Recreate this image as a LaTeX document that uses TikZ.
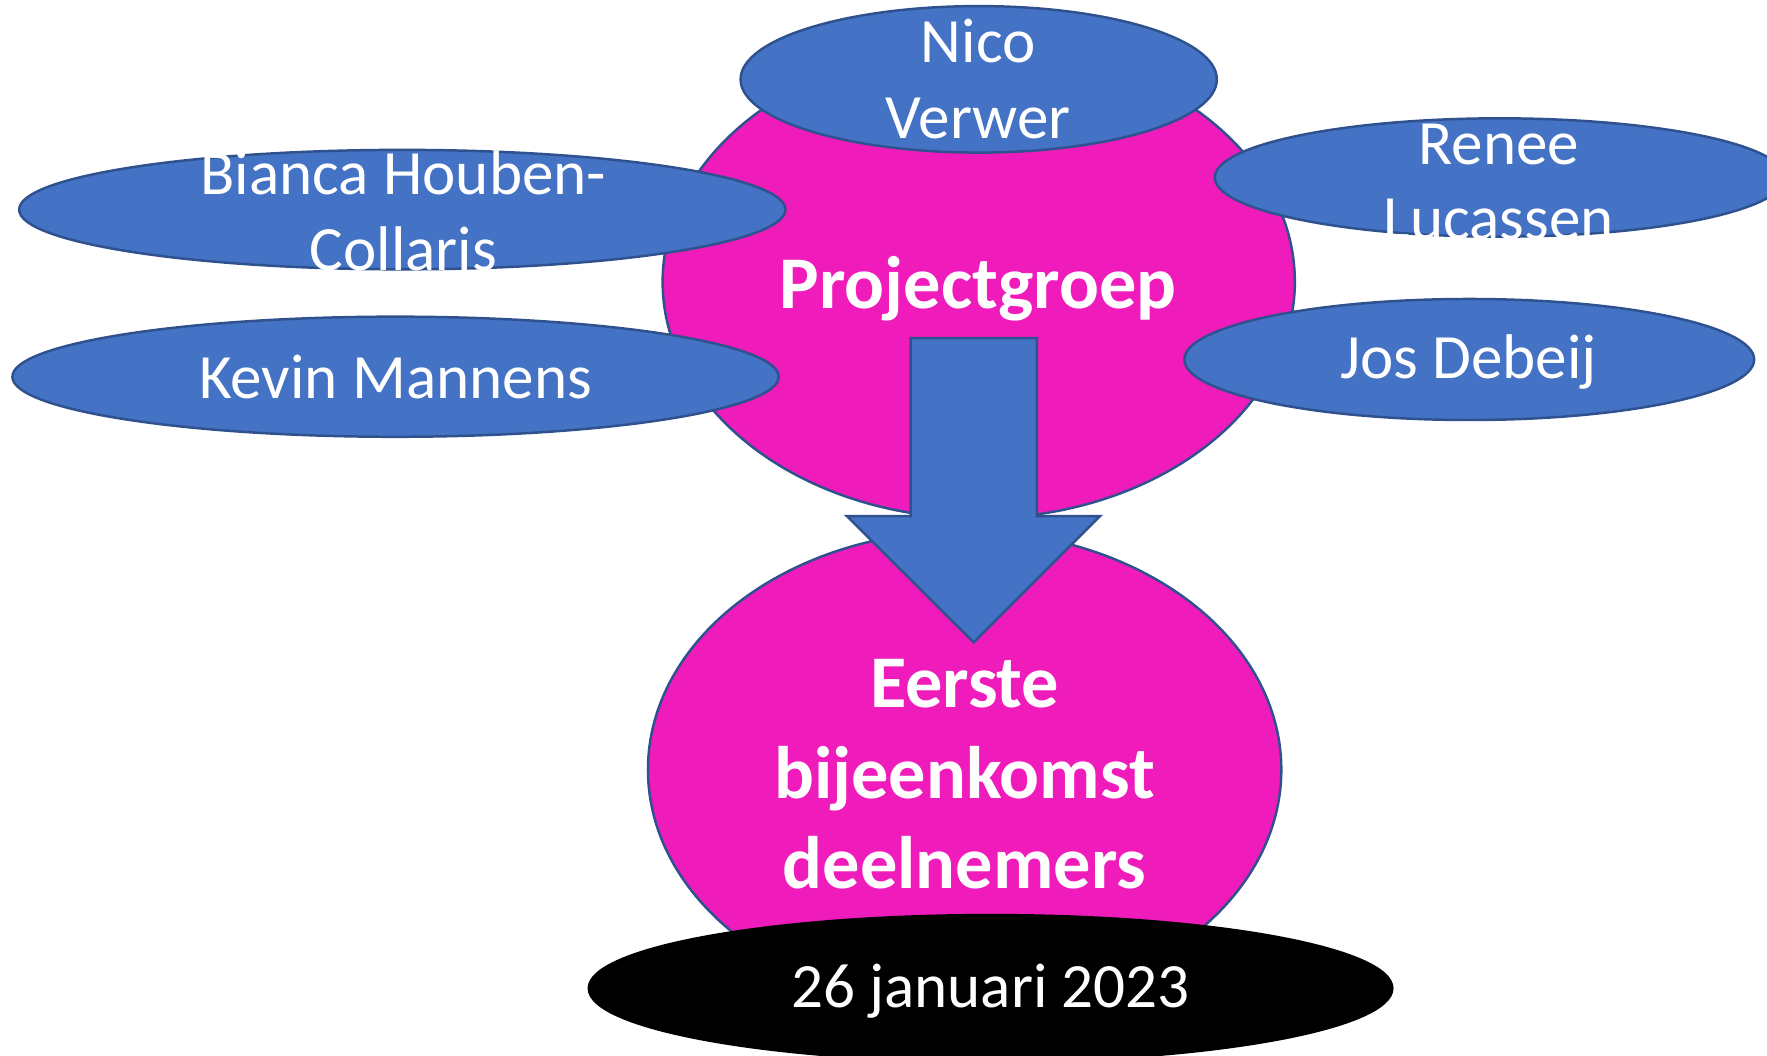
\documentclass[tikz,border=0pt]{standalone}
\usepackage{fontspec}
\setmainfont{Carlito}
\usetikzlibrary{shapes.geometric}
\definecolor{ellblue}{HTML}{4472C4}
\definecolor{edgeblue}{HTML}{2F528F}
\definecolor{pinkfill}{RGB}{240,27,187}
\begin{document}
\begin{tikzpicture}[x=0.5pt,y=-0.5pt,
  oval/.style={ellipse, draw=edgeblue, line width=1.1pt, inner sep=0pt, outer sep=0pt},
  member/.style={oval, fill=ellblue},
  group/.style={oval, fill=pinkfill},
  reg/.style={text=white, font=\fontsize{28}{33.5}\selectfont, align=center, inner sep=0pt},
  boldtxt/.style={text=white, font=\fontsize{33}{40}\selectfont\bfseries, align=center, inner sep=0pt},
  blockarrow/.style={fill=ellblue, draw=edgeblue, line width=1.1pt, line join=miter}]
\useasboundingbox (0,0) rectangle (1568,937);
\clip (0,0) rectangle (1568,937);
% pink groups
\node[group, minimum width=280.5pt, minimum height=210pt] (pg) at (868.5,250) {};
\node[group, minimum width=281pt, minimum height=212pt] (eb) at (856,683) {};
% members
\node[member, minimum width=211.3pt, minimum height=65pt] (nico) at (868.5,70.4) {};
\node[member, minimum width=340pt, minimum height=53pt] (bianca) at (357,186) {};
\node[member, minimum width=340pt, minimum height=53.3pt] (kevin) at (351,334.3) {};
\node[member, minimum width=253pt, minimum height=52.5pt] (renee) at (1331,157.5) {};
\node[member, minimum width=252.8pt, minimum height=53.7pt] (jos) at (1303.8,319) {};
% arrow
\coordinate (atop) at (864,300);
\coordinate (atip) at (864,570);
\draw[blockarrow] ([xshift=-28pt]atop) -- ([xshift=28pt]atop) -- ++(0,158) -- (976,458) -- (atip) -- (751.5,458) -- (808,458) -- cycle;
% date
\node[ellipse, fill=black, draw=black, line width=1.1pt, inner sep=0pt, minimum width=356.5pt, minimum height=65pt] (date) at (879,877) {};
% texts
\node[boldtxt] (tpg) at (868,256) {Projectgroep};
\node[boldtxt] (teb) at (856,687) {Eerste\\bijeenkomst\\deelnemers};
\node[reg] (tnico) at (868,70) {Nico\\Verwer};
\node[reg] (tbianca) at (358,187) {Bianca Houben-\\Collaris};
\node[reg] (tkevin) at (351,335) {Kevin Mannens};
\node[reg] (trenee) at (1330,161.5) {Renee\\Lucassen};
\node[reg] (tjos) at (1303,321) {Jos Debeij};
\node[reg] (tdate) at (879,880) {26 januari 2023};
\end{tikzpicture}
\end{document}
